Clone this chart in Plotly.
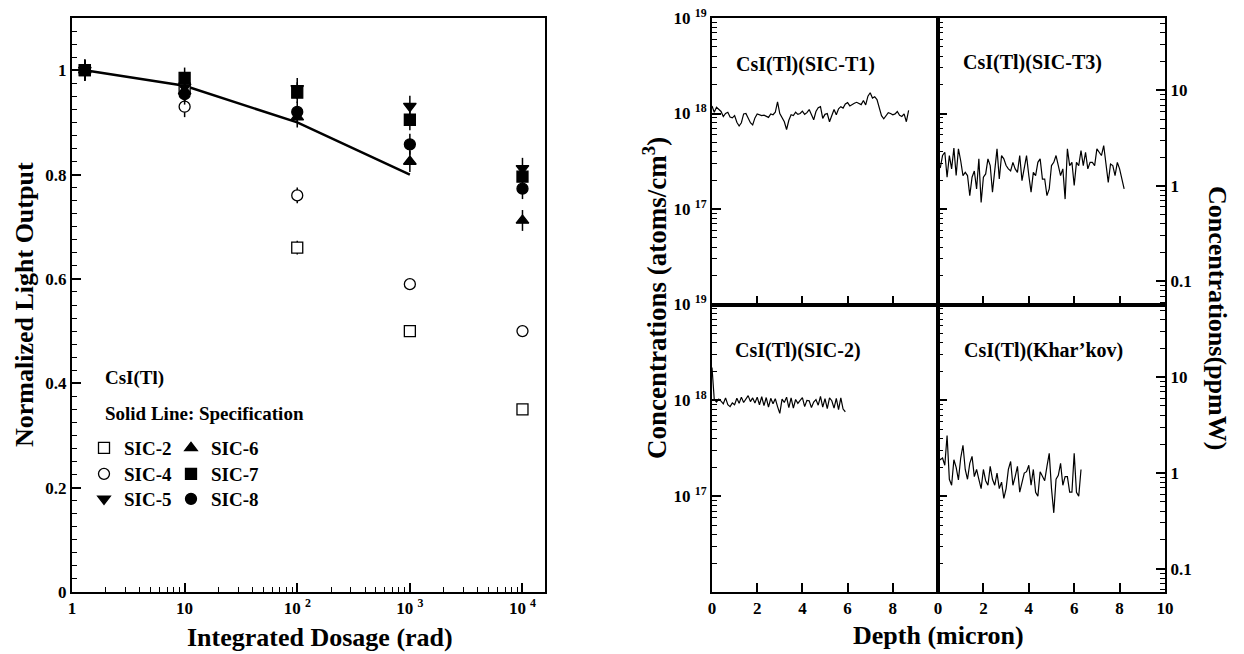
import plotly.graph_objects as go

W, H = 1244, 654
FONT = "Liberation Serif"


def fx(p):
    return p / W


def fy(p):
    return 1 - p / H


# ---------------- Left panel data ----------------
dose = [1.3, 10, 100, 1000, 10000]
sic2 = [1.0, 0.965, 0.66, 0.50, 0.35]
sic4 = [1.0, 0.93, 0.76, 0.59, 0.50]
sic5 = [1.0, 0.968, 0.965, 0.931, 0.812]
sic6 = [1.0, 0.96, 0.91, 0.825, 0.712]
sic7 = [1.0, 0.985, 0.957, 0.905, 0.796]
sic8 = [1.0, 0.954, 0.92, 0.858, 0.773]
err2 = [0.02, 0.02, 0.013, 0.006, 0.006]
err4 = [0.02, 0.02, 0.015, 0.006, 0.006]
err5 = [0.02, 0.02, 0.02, 0.02, 0.02]
err6 = [0.02, 0.02, 0.02, 0.02, 0.02]
err7 = [0.02, 0.02, 0.02, 0.02, 0.02]
err8 = [0.02, 0.02, 0.02, 0.02, 0.02]
spec_dose = [1.3, 10, 100, 1000]
spec_val = [1.0, 0.97, 0.90, 0.80]
dose_ticks = [1, 10, 100, 1000, 10000]
dose_ticktext = ["1", "10", "10 <sup>2</sup>", "10 <sup>3</sup>", "10 <sup>4</sup>"]
lo_ticks = [0, 0.2, 0.4, 0.6, 0.8, 1.0]
lo_ticktext = ["0", "0.2", "0.4", "0.6", "0.8", "1"]

# ---------------- Right panels data (units of 1e17 atoms/cm3) ----------------
depth_grid = [0.0, 0.1, 0.2, 0.3, 0.4, 0.5, 0.6, 0.7, 0.8, 0.9,
              1.0, 1.1, 1.2, 1.3, 1.4, 1.5, 1.6, 1.7, 1.8, 1.9,
              2.0, 2.1, 2.2, 2.3, 2.4, 2.5, 2.6, 2.7, 2.8, 2.9,
              3.0, 3.1, 3.2, 3.3, 3.4, 3.5, 3.6, 3.7, 3.8, 3.9,
              4.0, 4.1, 4.2, 4.3, 4.4, 4.5, 4.6, 4.7, 4.8, 4.9,
              5.0, 5.1, 5.2, 5.3, 5.4, 5.5, 5.6, 5.7, 5.8, 5.9,
              6.0, 6.1, 6.2, 6.3, 6.4, 6.5, 6.6, 6.7, 6.8, 6.9,
              7.0, 7.1, 7.2, 7.3, 7.4, 7.5, 7.6, 7.7, 7.8, 7.9,
              8.0, 8.1, 8.2, 8.3, 8.4, 8.5, 8.6, 8.7]

t1_e17 = [12.0, 10.3, 11.6, 11.0, 10.5, 9.3, 10.0, 10.3, 9.2, 9.0,
          9.5, 8.1, 7.4, 8.0, 9.9, 10.0, 8.8, 8.0, 7.6, 9.0,
          9.9, 9.6, 9.5, 9.6, 9.3, 9.1, 9.9, 9.7, 10.3, 13.2,
          10.0, 9.0, 8.2, 6.8, 8.5, 9.7, 9.5, 10.3, 9.8, 10.0,
          10.6, 9.8, 10.2, 11.0, 9.5, 8.6, 10.5, 11.5, 11.8, 8.9,
          9.8, 10.0, 8.2, 9.5, 11.0, 9.7, 11.2, 11.8, 11.4, 12.6,
          13.0, 12.0, 12.5, 12.8, 13.1, 12.7, 12.4, 13.7, 12.3, 15.2,
          16.5, 14.5, 15.0, 14.0, 11.5, 9.5, 8.8, 9.5, 10.2, 10.0,
          9.7, 9.9, 10.5, 9.6, 9.3, 9.9, 8.2, 10.8]

t3_e17 = [2.85, 2.7, 3.63, 3.93, 2.15, 3.63, 2.63, 4.35, 2.24, 4.26,
          3.2, 2.24, 2.42, 2.24, 1.38, 2.15, 2.5, 1.62, 3.35, 1.17,
          2.15, 2.33, 3.35, 2.85, 1.5, 2.42, 4.26, 2.06, 3.63, 3.35,
          2.85, 2.63, 2.5, 3.08, 2.63, 2.42, 3.63, 1.98, 2.74, 3.63,
          2.24, 1.5, 2.42, 2.24, 3.08, 3.35, 2.06, 2.06, 1.38, 1.62,
          2.85, 3.08, 3.63, 2.85, 2.24, 2.63, 1.27, 4.26, 2.85, 3.08,
          1.76, 3.08, 2.85, 4.1, 2.85, 3.93, 2.63, 3.08, 3.08, 2.85,
          4.26, 3.93, 3.63, 4.62, 2.85, 1.9, 2.96, 2.85, 2.24, 3.08,
          2.63, 2.06, 1.62]

sic2_e17 = [22.0, 10.2, 9.6, 10.3, 9.8, 9.2, 10.6, 9.0, 8.6, 9.4,
            9.0, 10.5, 9.3, 10.8, 9.5, 10.2, 11.2, 9.7, 10.6, 9.4,
            10.8, 9.0, 10.9, 8.8, 10.7, 8.5, 10.5, 9.2, 10.4, 8.6,
            7.3, 10.3, 9.5, 10.8, 8.4, 10.6, 8.3, 10.2, 9.3, 10.0,
            10.7, 8.6, 10.0, 9.9, 8.4, 9.6, 10.2, 8.9, 11.0, 8.5,
            10.4, 8.2, 10.6, 9.9, 8.3, 10.5, 8.0, 10.6, 8.1, 7.6]

khar_e17 = [2.6, 2.4, 2.5, 2.1, 4.3, 1.5, 1.3, 2.4, 2.0, 1.48,
            2.5, 3.4, 1.9, 1.5, 2.2, 2.6, 1.6, 1.9, 1.5, 1.2,
            1.9, 1.45, 1.3, 2.05, 1.5, 1.3, 1.74, 1.2, 1.4, 0.95,
            1.2, 1.9, 2.3, 1.3, 1.6, 2.05, 1.1, 1.4, 1.74, 1.8,
            2.1, 1.3, 1.9, 1.1, 1.0, 1.8, 1.6, 1.45, 2.05, 2.8,
            1.2, 0.67, 1.5, 1.65, 2.2, 1.3, 1.6, 1.6, 1.1, 1.1,
            2.8, 1.1, 1.0, 1.9]

conc_ticks = [1e17, 1e18, 1e19]
conc_ticktext = ["10 <sup>17</sup>", "10 <sup>18</sup>", "10 <sup>19</sup>"]
ppm_ticks = [0.1, 1, 10]
ppm_ticktext = ["0.1", "1", "10"]
ppm_per_atoms_log = 17.243  # 1 ppmW = 10**17.243 atoms/cm3

fig = go.Figure()

# ---- left panel ----
fig.add_trace(go.Scatter(x=spec_dose, y=spec_val, mode="lines",
                         line=dict(color="black", width=2.5),
                         showlegend=False, xaxis="x", yaxis="y"))

# (name, values, errors, symbol, fill colour)
series = [
    ("SIC-2", sic2, err2, "square", "white"),
    ("SIC-4", sic4, err4, "circle", "white"),
    ("SIC-5", sic5, err5, "triangle-down", "black"),
    ("SIC-6", sic6, err6, "triangle-up", "black"),
    ("SIC-8", sic8, err8, "circle", "black"),
    ("SIC-7", sic7, err7, "square", "black"),
]
for name, vals, errs, sym, fill in series:
    fig.add_trace(go.Scatter(
        x=dose, y=vals, mode="markers", name=name, showlegend=False,
        marker=dict(symbol=sym, size=11, color=fill,
                    line=dict(color="black", width=1.3)),
        error_y=dict(type="data", array=errs, width=0, thickness=1.5, color="black"),
        xaxis="x", yaxis="y"))

# legend: one single-item legend per entry, arranged in two columns of three
legend_items = [
    ("SIC-2", "square", "white", "legend", 84, 448),
    ("SIC-4", "circle", "white", "legend2", 84, 474),
    ("SIC-5", "triangle-down", "black", "legend3", 84, 499),
    ("SIC-6", "triangle-up", "black", "legend4", 171, 448),
    ("SIC-7", "square", "black", "legend5", 171, 474),
    ("SIC-8", "circle", "black", "legend6", 171, 499),
]
legend_layouts = {}
for name, sym, fill, lg, lx, ly in legend_items:
    fig.add_trace(go.Scatter(
        x=[None], y=[None], mode="markers", name=name, legend=lg,
        marker=dict(symbol=sym, size=11, color=fill,
                    line=dict(color="black", width=1.3)),
        xaxis="x", yaxis="y"))
    legend_layouts[lg] = dict(
        x=fx(lx), y=fy(ly), xanchor="left", yanchor="middle",
        bgcolor="rgba(0,0,0,0)", borderwidth=0,
        font=dict(family=FONT, size=19, color="black", weight="bold"))

# ---- right panels ----
def e17(vals):
    return [v * 1e17 for v in vals]


line_style = dict(color="black", width=1.2)
fig.add_trace(go.Scatter(x=depth_grid[:len(t1_e17)], y=e17(t1_e17), mode="lines",
                         line=line_style, showlegend=False, xaxis="x2", yaxis="y2"))
fig.add_trace(go.Scatter(x=depth_grid[:len(t3_e17)], y=e17(t3_e17), mode="lines",
                         line=line_style, showlegend=False, xaxis="x3", yaxis="y3"))
fig.add_trace(go.Scatter(x=depth_grid[:len(sic2_e17)], y=e17(sic2_e17), mode="lines",
                         line=line_style, showlegend=False, xaxis="x4", yaxis="y4"))
fig.add_trace(go.Scatter(x=depth_grid[:len(khar_e17)], y=e17(khar_e17), mode="lines",
                         line=line_style, showlegend=False, xaxis="x5", yaxis="y5"))
# dummy traces so the ppmW overlay axes exist
fig.add_trace(go.Scatter(x=[None], y=[None], showlegend=False, xaxis="x3", yaxis="y6"))
fig.add_trace(go.Scatter(x=[None], y=[None], showlegend=False, xaxis="x5", yaxis="y7"))

tickfont = dict(family=FONT, size=17, color="black", weight="bold")
axis_common = dict(showline=True, linecolor="black", linewidth=2, showgrid=False,
                   zeroline=False, ticks="inside", ticklen=9, tickwidth=1.5,
                   tickcolor="black", tickfont=tickfont, automargin=False)

log_minor_dose = [k * 10 ** e for e in range(0, 5) for k in range(2, 10)]
log_minor_conc = [k * 10 ** e for e in (16, 17, 18) for k in range(2, 10)]
log_minor_ppm = [k * 10 ** e for e in (-2, -1, 0, 1) for k in range(2, 10)]
lin_minor_lo = [i * 0.025 for i in range(0, 45)]


def minor_ticks(vals):
    return dict(tickmode="array", tickvals=vals, ticks="inside",
                ticklen=5, tickwidth=1.2, tickcolor="black", showgrid=False)


left_dom_x = [fx(72), fx(545)]
right_dom_xl = [fx(712), fx(938)]
right_dom_xr = [fx(938), fx(1165)]
dom_top = [fy(304.5), fy(18)]
dom_bot = [fy(592), fy(304.5)]
dom_left = [fy(592), fy(18)]

layout = dict(
    width=W, height=H, autosize=False,
    margin=dict(l=0, r=0, t=0, b=0, autoexpand=False),
    paper_bgcolor="white", plot_bgcolor="white",
    font=dict(family=FONT, color="black"),
    xaxis=dict(axis_common, type="log", domain=left_dom_x, anchor="y",
               range=[0, 4.2], mirror=True,
               tickmode="array", tickvals=dose_ticks, ticktext=dose_ticktext,
               minor=minor_ticks(log_minor_dose)),
    yaxis=dict(axis_common, domain=dom_left, anchor="x", range=[0, 1.1], mirror=True,
               tickmode="array", tickvals=lo_ticks, ticktext=lo_ticktext,
               minor=minor_ticks(lin_minor_lo)),
    xaxis2=dict(axis_common, domain=right_dom_xl, anchor="y2", range=[0, 10], mirror=True,
                tickmode="array", tickvals=[2, 4, 6, 8], showticklabels=False),
    yaxis2=dict(axis_common, type="log", domain=dom_top, anchor="x2", range=[16, 19],
                mirror=True, tickmode="array", tickvals=conc_ticks, ticktext=conc_ticktext,
                minor=minor_ticks(log_minor_conc)),
    xaxis3=dict(axis_common, domain=right_dom_xr, anchor="y3", range=[0, 10], mirror=True,
                tickmode="array", tickvals=[2, 4, 6, 8], showticklabels=False),
    yaxis3=dict(axis_common, type="log", domain=dom_top, anchor="x3", range=[16, 19],
                tickmode="array", tickvals=conc_ticks, showticklabels=False,
                minor=minor_ticks(log_minor_conc)),
    yaxis6=dict(axis_common, type="log", overlaying="y3", side="right", anchor="x3",
                range=[16 - ppm_per_atoms_log, 19 - ppm_per_atoms_log],
                tickmode="array", tickvals=ppm_ticks, ticktext=ppm_ticktext,
                minor=minor_ticks(log_minor_ppm)),
    xaxis4=dict(axis_common, domain=right_dom_xl, anchor="y4", range=[0, 10], mirror=True,
                tickmode="array", tickvals=[0, 2, 4, 6, 8], ticktext=["0", "2", "4", "6", "8"]),
    yaxis4=dict(axis_common, type="log", domain=dom_bot, anchor="x4", range=[16, 19],
                mirror=True, tickmode="array", tickvals=conc_ticks, ticktext=conc_ticktext,
                minor=minor_ticks(log_minor_conc)),
    xaxis5=dict(axis_common, domain=right_dom_xr, anchor="y5", range=[0, 10], mirror=True,
                tickmode="array", tickvals=[0, 2, 4, 6, 8, 10],
                ticktext=["0", "2", "4", "6", "8", "10"]),
    yaxis5=dict(axis_common, type="log", domain=dom_bot, anchor="x5", range=[16, 19],
                tickmode="array", tickvals=conc_ticks, showticklabels=False,
                minor=minor_ticks(log_minor_conc)),
    yaxis7=dict(axis_common, type="log", overlaying="y5", side="right", anchor="x5",
                range=[16 - ppm_per_atoms_log, 19 - ppm_per_atoms_log],
                tickmode="array", tickvals=ppm_ticks, ticktext=ppm_ticktext,
                minor=minor_ticks(log_minor_ppm)),
)
layout.update(legend_layouts)
fig.update_layout(**layout)

title_font = dict(family=FONT, size=26, color="black", weight="bold")
label_font = dict(family=FONT, size=19, color="black", weight="bold")
panel_font = dict(family=FONT, size=20, color="black", weight="bold")

annotations = [
    dict(text="Normalized Light Output", x=fx(24), y=fy(305), textangle=-90, font=title_font),
    dict(text="Integrated Dosage (rad)", x=fx(320), y=fy(637), font=title_font),
    dict(text="CsI(Tl)", x=fx(103), y=fy(378), xanchor="left", font=label_font),
    dict(text="Solid Line: Specification", x=fx(103), y=fy(413), xanchor="left", font=label_font),
    dict(text="Concentrations (atoms/cm<sup>3</sup>)", x=fx(655), y=fy(298), textangle=-90,
         font=dict(title_font, size=27)),
    dict(text="Concentrations(ppmW)", x=fx(1218), y=fy(318), textangle=90, font=title_font),
    dict(text="Depth (micron)", x=fx(938), y=fy(635), font=title_font),
    dict(text="CsI(Tl)(SIC-T1)", x=fx(805), y=fy(64), font=panel_font),
    dict(text="CsI(Tl)(SIC-T3)", x=fx(1032), y=fy(63), font=panel_font),
    dict(text="CsI(Tl)(SIC-2)", x=fx(798), y=fy(350), font=panel_font),
    dict(text="CsI(Tl)(Khar\u2019kov)", x=fx(1043), y=fy(350), font=panel_font),
]
for a in annotations:
    a.setdefault("xanchor", "center")
    a.update(xref="paper", yref="paper", showarrow=False, yanchor="middle")
fig.update_layout(annotations=annotations)

fig.write_html("out.html", config={"displayModeBar": False},
               post_script="document.body.style.margin='0';document.body.style.overflow='hidden';")
